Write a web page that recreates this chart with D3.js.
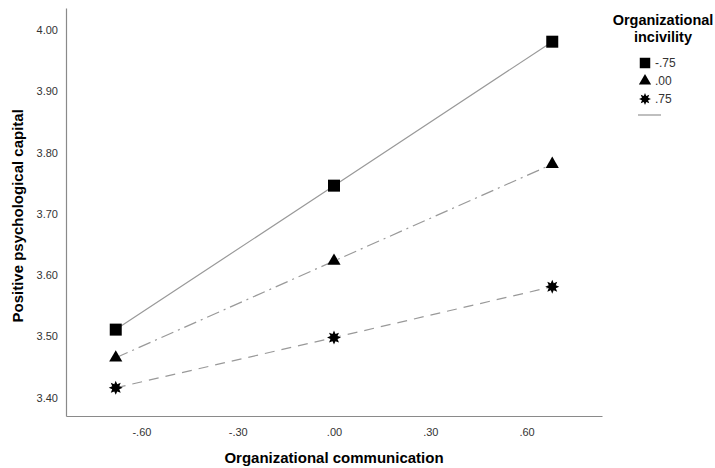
<!DOCTYPE html>
<html>
<head>
<meta charset="utf-8">
<script src="https://cdn.jsdelivr.net/npm/d3@7"></script>
<style>
  body { margin: 0; background: #fff; }
  svg { font-family: "Liberation Sans", Arial, sans-serif; }
</style>
</head>
<body>
<div id="chart"></div>
<script>
// moderator levels and predicted values
const commLevels = [-0.68, 0.00, 0.68]
const incivilityLabels = ["-.75", ".00", ".75"]
const lowIncivility = [3.511, 3.746, 3.981]
const midIncivility = [3.465, 3.623, 3.781]
const highIncivility = [3.416, 3.498, 3.581]
const xTicks = [-0.6, -0.3, 0, 0.3, 0.6]
const yTicks = [3.4, 3.5, 3.6, 3.7, 3.8, 3.9, 4.0]

const width = 715, height = 468
const margin = ({top: 8, right: 113, bottom: 52, left: 66})

const svg = d3.select("#chart").append("svg")
    .attr("width", width)
    .attr("height", height)

const x = d3.scaleLinear()
    .domain([-0.835, 0.835])
    .range([margin.left, width - margin.right])
const y = d3.scaleLinear()
    .domain([3.37, 4.036])
    .range([height - margin.bottom, margin.top])

// SPSS style number format: drop leading zero
const fmt = d => {
    let s = Math.abs(d).toFixed(2).replace(/^0\./, ".")
    return (d < -1e-9 ? "-" : "") + s
}

const xAxis = g => g
    .attr("transform", `translate(0,${height - margin.bottom})`)
    .call(d3.axisBottom(x).tickValues(xTicks).tickSize(0).tickPadding(12).tickFormat(fmt))
    .call(g => g.select(".domain").attr("stroke", "#8a8a8a").attr("stroke-width", 1.2))
    .call(g => g.selectAll("text").attr("font-size", 11).attr("fill", "#333"))
const yAxis = g => g
    .attr("transform", `translate(${margin.left},0)`)
    .call(d3.axisLeft(y).tickValues(yTicks).tickSize(0).tickPadding(8).tickFormat(d3.format(".2f")))
    .call(g => g.select(".domain").attr("stroke", "#8a8a8a").attr("stroke-width", 1.2))
    .call(g => g.selectAll("text").attr("font-size", 11).attr("fill", "#333"))

svg.append("g").call(xAxis)
svg.append("g").call(yAxis)

svg.append("text")
    .attr("x", x(0))
    .attr("y", 463)
    .attr("text-anchor", "middle")
    .attr("font-size", 15)
    .attr("font-weight", "bold")
    .text("Organizational communication")
svg.append("text")
    .attr("transform", `translate(23,${y(3.70) + 2}) rotate(-90)`)
    .attr("text-anchor", "middle")
    .attr("font-size", 15)
    .attr("font-weight", "bold")
    .text("Positive psychological capital")

// 8-point burst marker like SPSS's asterisk
function burst(r) {
    const pts = d3.range(16).map(i => {
        const a = i * Math.PI / 8
        const rr = i % 2 === 0 ? r : r * 0.55
        return [rr * Math.sin(a), -rr * Math.cos(a)]
    })
    return "M" + pts.join("L") + "Z"
}

const series = [
    {name: incivilityLabels[0], values: lowIncivility, dash: null, sym: d3.symbol(d3.symbolSquare, 144)(), symLeg: d3.symbol(d3.symbolSquare, 110)()},
    {name: incivilityLabels[1], values: midIncivility, dash: "13,5,2,5", sym: d3.symbol(d3.symbolTriangle, 75)(), symLeg: d3.symbol(d3.symbolTriangle, 65)()},
    {name: incivilityLabels[2], values: highIncivility, dash: "10,7", sym: burst(7), symLeg: burst(6)}
]

const line = d3.line()
    .x((d, i) => x(commLevels[i]))
    .y(d => y(d))

series.forEach(s => {
    svg.append("path")
        .attr("d", line(s.values))
        .attr("fill", "none")
        .attr("stroke", "#999")
        .attr("stroke-width", 1.2)
        .attr("stroke-dasharray", s.dash)
    svg.append("g").selectAll("path")
        .data(s.values)
        .join("path")
        .attr("transform", (d, i) => `translate(${x(commLevels[i])},${y(d)})`)
        .attr("d", s.sym)
        .attr("fill", "#000")
})

// legend
const leg = svg.append("g")
leg.append("text")
    .attr("x", 663).attr("y", 25)
    .attr("text-anchor", "middle")
    .attr("font-size", 14.5).attr("font-weight", "bold")
    .text("Organizational")
leg.append("text")
    .attr("x", 663).attr("y", 42)
    .attr("text-anchor", "middle")
    .attr("font-size", 14.5).attr("font-weight", "bold")
    .text("incivility")
series.forEach((s, i) => {
    const ly = 63 + i * 18
    leg.append("path")
        .attr("transform", `translate(645,${ly})`)
        .attr("d", s.symLeg)
        .attr("fill", "#000")
    leg.append("text")
        .attr("x", 655).attr("y", ly + 4)
        .attr("font-size", 12).attr("fill", "#333")
        .text(s.name)
})
leg.append("line")
    .attr("x1", 638).attr("x2", 661)
    .attr("y1", 115).attr("y2", 115)
    .attr("stroke", "#aaa").attr("stroke-width", 1.5)
</script>
</body>
</html>
